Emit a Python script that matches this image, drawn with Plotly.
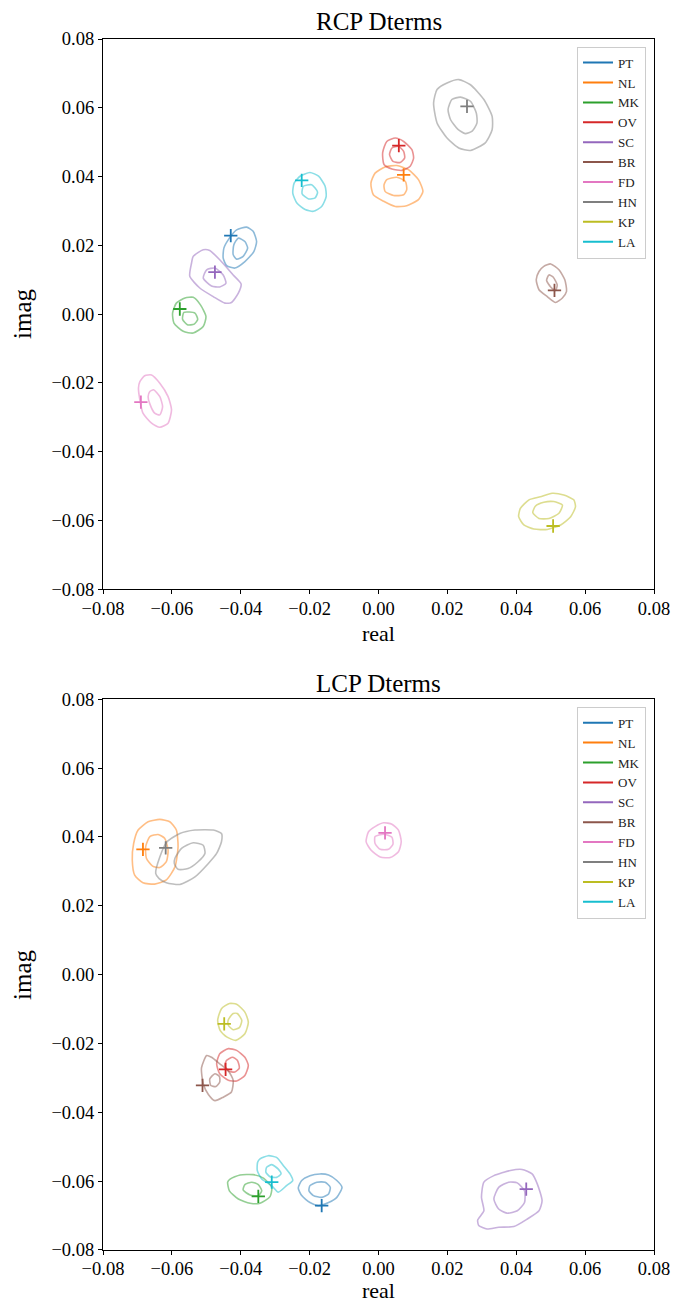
import plotly.graph_objects as go

# Station names and the matplotlib "tab10" colours used for them
stations = ["PT", "NL", "MK", "OV", "SC", "BR", "FD", "HN", "KP", "LA"]
colors = ["#1f77b4", "#ff7f0e", "#2ca02c", "#d62728", "#9467bd",
          "#8c564b", "#e377c2", "#7f7f7f", "#bcbd22", "#17becf"]

# Best-fit D-terms (real, imaginary) per station
rcp_real = [-0.0429, 0.0073, -0.0577, 0.0059, -0.0475, 0.0511, -0.0690, 0.0257, 0.0507, -0.0223]
rcp_imag = [0.0228, 0.0405, 0.0015, 0.0490, 0.0122, 0.0069, -0.0256, 0.0604, -0.0616, 0.0389]
lcp_real = [-0.0165, -0.0684, -0.0349, -0.0444, 0.0429, -0.0511, 0.0019, -0.0618, -0.0448, -0.0310]
lcp_imag = [-0.0671, 0.0364, -0.0644, -0.0275, -0.0623, -0.0322, 0.0412, 0.0368, -0.0143, -0.0603]

# Posterior density contours (outer and inner level), vertices as (real list, imag list)
rcp_outer = {
    "PT": ([-0.0412, -0.0383, -0.0364, -0.0354, -0.0362, -0.0388, -0.0417, -0.0441, -0.0451, -0.0449, -0.0433],
           [0.0245, 0.0253, 0.0241, 0.0211, 0.0182, 0.0153, 0.0134, 0.0141, 0.0163, 0.0192, 0.0221]),
    "NL": ([-0.0010, 0.0019, 0.0053, 0.0087, 0.0116, 0.0129, 0.0116, 0.0082, 0.0049, 0.0015, -0.0015, -0.0022],
           [0.0410, 0.0428, 0.0432, 0.0420, 0.0391, 0.0357, 0.0333, 0.0315, 0.0313, 0.0328, 0.0347, 0.0381]),
    "MK": ([-0.0587, -0.0562, -0.0538, -0.0517, -0.0501, -0.0509, -0.0538, -0.0567, -0.0594, -0.0598],
           [0.0032, 0.0047, 0.0049, 0.0027, -0.0007, -0.0036, -0.0055, -0.0050, -0.0026, 0.0003]),
    "OV": ([0.0024, 0.0049, 0.0073, 0.0097, 0.0102, 0.0092, 0.0068, 0.0039, 0.0016, 0.0012],
           [0.0502, 0.0512, 0.0502, 0.0478, 0.0454, 0.0430, 0.0418, 0.0422, 0.0435, 0.0469]),
    "SC": ([-0.0538, -0.0509, -0.0490, -0.0461, -0.0422, -0.0399, -0.0407, -0.0427, -0.0446, -0.0480, -0.0519, -0.0548, -0.0543],
           [0.0168, 0.0187, 0.0185, 0.0158, 0.0114, 0.0088, 0.0061, 0.0034, 0.0032, 0.0051, 0.0076, 0.0110, 0.0148]),
    "BR": ([0.0480, 0.0500, 0.0524, 0.0541, 0.0546, 0.0534, 0.0514, 0.0490, 0.0466, 0.0458, 0.0466],
           [0.0139, 0.0146, 0.0129, 0.0100, 0.0066, 0.0047, 0.0034, 0.0051, 0.0071, 0.0100, 0.0124]),
    "FD": ([-0.0693, -0.0679, -0.0659, -0.0635, -0.0611, -0.0601, -0.0611, -0.0635, -0.0659, -0.0684, -0.0693, -0.0697],
           [-0.0196, -0.0179, -0.0177, -0.0201, -0.0240, -0.0278, -0.0317, -0.0329, -0.0317, -0.0288, -0.0249, -0.0215]),
    "HN": ([0.0170, 0.0199, 0.0233, 0.0267, 0.0306, 0.0330, 0.0330, 0.0310, 0.0267, 0.0233, 0.0199, 0.0170, 0.0160],
           [0.0653, 0.0672, 0.0682, 0.0667, 0.0624, 0.0575, 0.0536, 0.0498, 0.0476, 0.0483, 0.0512, 0.0556, 0.0614]),
    "KP": ([0.0412, 0.0437, 0.0470, 0.0504, 0.0538, 0.0567, 0.0572, 0.0558, 0.0529, 0.0490, 0.0451, 0.0422, 0.0407],
           [-0.0565, -0.0540, -0.0531, -0.0521, -0.0526, -0.0540, -0.0560, -0.0589, -0.0613, -0.0626, -0.0625, -0.0613, -0.0589]),
    "LA": ([-0.0228, -0.0199, -0.0174, -0.0155, -0.0152, -0.0165, -0.0189, -0.0213, -0.0237, -0.0249, -0.0245],
           [0.0401, 0.0412, 0.0401, 0.0372, 0.0342, 0.0313, 0.0299, 0.0304, 0.0323, 0.0352, 0.0381]),
}

rcp_inner = {
    "PT": ([-0.0407, -0.0388, -0.0380, -0.0393, -0.0412, -0.0422, -0.0420],
           [0.0221, 0.0211, 0.0192, 0.0168, 0.0160, 0.0173, 0.0202]),
    "NL": ([0.0024, 0.0053, 0.0078, 0.0082, 0.0073, 0.0044, 0.0019, 0.0016],
           [0.0391, 0.0398, 0.0386, 0.0362, 0.0347, 0.0345, 0.0357, 0.0376]),
    "MK": ([-0.0565, -0.0533, -0.0525, -0.0535, -0.0555, -0.0569],
           [0.0005, 0.0003, -0.0015, -0.0029, -0.0031, -0.0015]),
    "OV": ([0.0039, 0.0058, 0.0073, 0.0076, 0.0063, 0.0042, 0.0032],
           [0.0483, 0.0488, 0.0473, 0.0454, 0.0441, 0.0444, 0.0464]),
    "SC": ([-0.0499, -0.0475, -0.0451, -0.0443, -0.0461, -0.0485, -0.0509],
           [0.0129, 0.0134, 0.0114, 0.0090, 0.0079, 0.0082, 0.0105]),
    "BR": ([0.0495, 0.0507, 0.0519, 0.0514, 0.0500, 0.0488],
           [0.0114, 0.0108, 0.0085, 0.0069, 0.0079, 0.0098]),
    "FD": ([-0.0664, -0.0653, -0.0635, -0.0627, -0.0635, -0.0650, -0.0664, -0.0669],
           [-0.0225, -0.0220, -0.0240, -0.0269, -0.0293, -0.0288, -0.0261, -0.0240]),
    "HN": ([0.0213, 0.0238, 0.0267, 0.0284, 0.0286, 0.0272, 0.0252, 0.0230, 0.0209, 0.0202],
           [0.0624, 0.0631, 0.0619, 0.0585, 0.0556, 0.0532, 0.0525, 0.0538, 0.0566, 0.0595]),
    "KP": ([0.0456, 0.0480, 0.0509, 0.0534, 0.0524, 0.0495, 0.0466, 0.0448],
           [-0.0558, -0.0547, -0.0545, -0.0555, -0.0579, -0.0594, -0.0594, -0.0577]),
    "LA": ([-0.0218, -0.0194, -0.0177, -0.0184, -0.0203, -0.0222],
           [0.0372, 0.0376, 0.0355, 0.0338, 0.0335, 0.0350]),
}

lcp_outer = {
    "PT": ([-0.0223, -0.0199, -0.0170, -0.0145, -0.0121, -0.0106, -0.0121, -0.0145, -0.0174, -0.0199, -0.0223, -0.0233],
           [-0.0598, -0.0584, -0.0579, -0.0582, -0.0598, -0.0618, -0.0647, -0.0662, -0.0671, -0.0662, -0.0642, -0.0620]),
    "NL": ([-0.0698, -0.0669, -0.0635, -0.0606, -0.0587, -0.0582, -0.0591, -0.0616, -0.0650, -0.0684, -0.0708, -0.0715, -0.0711],
           [0.0420, 0.0444, 0.0451, 0.0444, 0.0420, 0.0372, 0.0313, 0.0275, 0.0263, 0.0267, 0.0289, 0.0333, 0.0381]),
    "MK": ([-0.0431, -0.0402, -0.0364, -0.0334, -0.0310, -0.0315, -0.0344, -0.0373, -0.0407, -0.0433, -0.0438],
           [-0.0594, -0.0582, -0.0581, -0.0591, -0.0618, -0.0645, -0.0664, -0.0664, -0.0652, -0.0628, -0.0603]),
    "OV": ([-0.0461, -0.0436, -0.0412, -0.0388, -0.0378, -0.0388, -0.0412, -0.0436, -0.0461, -0.0470],
           [-0.0230, -0.0215, -0.0220, -0.0240, -0.0264, -0.0293, -0.0309, -0.0307, -0.0288, -0.0259]),
    "SC": ([0.0306, 0.0335, 0.0383, 0.0417, 0.0446, 0.0461, 0.0475, 0.0466, 0.0432, 0.0393, 0.0349, 0.0315, 0.0291, 0.0288, 0.0306, 0.0299],
           [-0.0603, -0.0584, -0.0569, -0.0566, -0.0579, -0.0608, -0.0657, -0.0686, -0.0710, -0.0732, -0.0734, -0.0739, -0.0729, -0.0713, -0.0686, -0.0647]),
    "BR": ([-0.0514, -0.0499, -0.0485, -0.0461, -0.0436, -0.0422, -0.0427, -0.0451, -0.0475, -0.0494, -0.0509],
           [-0.0271, -0.0235, -0.0240, -0.0259, -0.0280, -0.0307, -0.0341, -0.0356, -0.0366, -0.0348, -0.0317]),
    "FD": ([-0.0010, 0.0015, 0.0039, 0.0058, 0.0066, 0.0058, 0.0034, 0.0005, -0.0022, -0.0036, -0.0029],
           [0.0430, 0.0441, 0.0437, 0.0420, 0.0386, 0.0357, 0.0340, 0.0342, 0.0362, 0.0386, 0.0415]),
    "HN": ([-0.0647, -0.0635, -0.0614, -0.0577, -0.0533, -0.0480, -0.0456, -0.0456, -0.0470, -0.0494, -0.0533, -0.0577, -0.0616, -0.0637],
           [0.0294, 0.0342, 0.0386, 0.0410, 0.0420, 0.0420, 0.0410, 0.0386, 0.0352, 0.0323, 0.0284, 0.0262, 0.0267, 0.0279]),
    "KP": ([-0.0456, -0.0433, -0.0412, -0.0388, -0.0378, -0.0388, -0.0414, -0.0441, -0.0460, -0.0467],
           [-0.0099, -0.0084, -0.0086, -0.0109, -0.0138, -0.0172, -0.0191, -0.0181, -0.0162, -0.0133]),
    "LA": ([-0.0344, -0.0320, -0.0296, -0.0276, -0.0257, -0.0249, -0.0267, -0.0291, -0.0310, -0.0339, -0.0352, -0.0351],
           [-0.0535, -0.0526, -0.0531, -0.0555, -0.0579, -0.0598, -0.0613, -0.0632, -0.0613, -0.0594, -0.0569, -0.0545]),
}

lcp_inner = {
    "PT": ([-0.0199, -0.0179, -0.0155, -0.0140, -0.0145, -0.0165, -0.0189, -0.0202],
           [-0.0613, -0.0603, -0.0603, -0.0618, -0.0637, -0.0647, -0.0642, -0.0628]),
    "NL": ([-0.0664, -0.0640, -0.0621, -0.0611, -0.0616, -0.0635, -0.0656, -0.0674, -0.0676],
           [0.0401, 0.0407, 0.0396, 0.0362, 0.0328, 0.0311, 0.0315, 0.0338, 0.0372]),
    "MK": ([-0.0388, -0.0368, -0.0349, -0.0339, -0.0349, -0.0373, -0.0393],
           [-0.0610, -0.0603, -0.0610, -0.0628, -0.0642, -0.0640, -0.0626]),
    "OV": ([-0.0441, -0.0424, -0.0410, -0.0404, -0.0417, -0.0436, -0.0446],
           [-0.0249, -0.0240, -0.0249, -0.0271, -0.0283, -0.0280, -0.0264]),
    "SC": ([0.0349, 0.0378, 0.0403, 0.0424, 0.0424, 0.0403, 0.0373, 0.0349, 0.0335],
           [-0.0618, -0.0603, -0.0605, -0.0628, -0.0662, -0.0686, -0.0693, -0.0681, -0.0652]),
    "BR": ([-0.0490, -0.0475, -0.0462, -0.0461, -0.0472, -0.0487],
           [-0.0303, -0.0288, -0.0296, -0.0312, -0.0325, -0.0322]),
    "FD": ([-0.0010, 0.0015, 0.0039, 0.0042, 0.0029, 0.0005, -0.0010],
           [0.0401, 0.0408, 0.0399, 0.0379, 0.0364, 0.0364, 0.0381]),
    "HN": ([-0.0591, -0.0572, -0.0538, -0.0509, -0.0504, -0.0524, -0.0553, -0.0582, -0.0593],
           [0.0338, 0.0367, 0.0383, 0.0376, 0.0352, 0.0328, 0.0308, 0.0306, 0.0323]),
    "KP": ([-0.0436, -0.0422, -0.0410, -0.0397, -0.0404, -0.0422, -0.0436],
           [-0.0131, -0.0113, -0.0113, -0.0133, -0.0154, -0.0160, -0.0147]),
    "LA": ([-0.0325, -0.0310, -0.0291, -0.0283, -0.0296, -0.0315, -0.0327],
           [-0.0560, -0.0552, -0.0565, -0.0579, -0.0589, -0.0587, -0.0574]),
}

FONT = "Liberation Serif"
fig = go.Figure()

panels = [
    ("x", "y", "legend", rcp_real, rcp_imag, rcp_outer, rcp_inner),
    ("x2", "y2", "legend2", lcp_real, lcp_imag, lcp_outer, lcp_inner),
]

for xa, ya, leg, re_best, im_best, outer, inner in panels:
    for i, st in enumerate(stations):
        col = colors[i]
        # contour rings, closed back onto their first vertex
        for level in (outer, inner):
            xs, ys = level[st]
            fig.add_trace(go.Scatter(
                x=list(xs) + [xs[0]], y=list(ys) + [ys[0]],
                mode="lines", xaxis=xa, yaxis=ya, opacity=0.5,
                line=dict(color=col, width=1.6, shape="spline", smoothing=0.6),
                showlegend=False, hoverinfo="skip"))
    for i, st in enumerate(stations):
        # best-fit point
        fig.add_trace(go.Scatter(
            x=[re_best[i]], y=[im_best[i]], mode="markers", xaxis=xa, yaxis=ya,
            marker=dict(symbol="cross-thin", size=9.5, color=colors[i],
                        line=dict(color=colors[i], width=1.8)),
            showlegend=False, name=st))
    for i, st in enumerate(stations):
        # legend handle
        fig.add_trace(go.Scatter(
            x=[None], y=[None], mode="lines", xaxis=xa, yaxis=ya,
            line=dict(color=colors[i], width=2), name=st, legend=leg))

axis_style = dict(
    range=[-0.08, 0.08], dtick=0.02, tick0=-0.08, tickformat=".2f",
    showgrid=False, zeroline=False, showline=True, mirror=True,
    linecolor="black", linewidth=1.2, ticks="outside", ticklen=4,
    tickwidth=1, tickcolor="black",
    tickfont=dict(family=FONT, size=18.5, color="black"),
)

top_dom = [0.5456, 1.0]
bot_dom = [0.0, 0.4548]

legend_style = dict(
    xanchor="right", yanchor="top", x=0.9855,
    bgcolor="rgba(255,255,255,0.8)", bordercolor="#cccccc", borderwidth=1,
    font=dict(family=FONT, size=13, color="#222222"),
)

fig.update_layout(
    width=683, height=1304,
    margin=dict(l=103, r=29, t=39, b=54),
    paper_bgcolor="white", plot_bgcolor="white",
    xaxis=dict(axis_style, domain=[0, 1], anchor="y", ticklabelstandoff=-2),
    yaxis=dict(axis_style, domain=top_dom, anchor="x"),
    xaxis2=dict(axis_style, domain=[0, 1], anchor="y2", ticklabelstandoff=-2),
    yaxis2=dict(axis_style, domain=bot_dom, anchor="x2"),
    legend=dict(legend_style, y=0.9937),
    legend2=dict(legend_style, y=0.4486),
)

title_font = dict(family=FONT, size=25, color="black")
label_font = dict(family=FONT, size=22, color="black")
annots = [
    dict(text="RCP Dterms", x=0.5, y=(1250 - 22) / 1211, yanchor="middle", font=title_font),
    dict(text="LCP Dterms", x=0.5, y=(1250 - 683) / 1211, yanchor="middle", font=title_font),
    dict(text="real", x=0.5, y=(1250 - 620) / 1211, yanchor="top", font=label_font),
    dict(text="real", x=0.5, y=(1250 - 1304) / 1211, yanchor="bottom", font=label_font),
    dict(text="imag", x=(22 - 103) / 551, y=(1250 - 314) / 1211, yanchor="middle",
         textangle=-90, font=title_font),
    dict(text="imag", x=(22 - 103) / 551, y=(1250 - 975) / 1211, yanchor="middle",
         textangle=-90, font=title_font),
]
for a in annots:
    fig.add_annotation(xref="paper", yref="paper", showarrow=False,
                       xanchor="center", borderpad=0, **a)

fig.write_html("out.html")
